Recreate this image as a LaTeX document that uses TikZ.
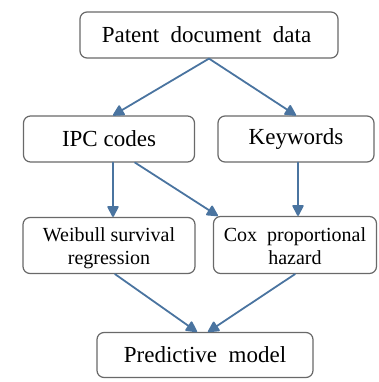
\documentclass[tikz,border=0pt]{standalone}
\usepackage{fontspec}
\setmainfont{Liberation Serif}
\usetikzlibrary{arrows.meta}
\definecolor{flow}{RGB}{74,116,160}
\definecolor{edge}{RGB}{105,105,105}
% lower the ink of a label without changing its reported size
\newcommand{\lowered}[1]{\raisebox{-3pt}[\height][\depth]{#1}}
\tikzset{
  box/.style={draw=edge, line width=1.2pt, rounded corners=7pt, fill=white,
              align=center, inner sep=0pt},
  flowarrow/.style={draw=flow, line width=1.8pt, line cap=round,
              -{Triangle[length=12pt,width=12pt,round]}}
}
\begin{document}
\begin{tikzpicture}[x=1pt,y=-1pt]
  \useasboundingbox (0,0) rectangle (379,382);
  % process steps
  \node[box, minimum width=258pt, minimum height=46pt, font=\fontsize{23}{24}\selectfont]
    (patent) at (209,35) {\hspace*{-5pt}Patent\ \ document\ \ data};
  \node[box, minimum width=171pt, minimum height=46pt, font=\fontsize{23}{24}\selectfont]
    (ipc) at (109,139) {IPC codes};
  \node[box, minimum width=156pt, minimum height=46pt, font=\fontsize{23}{24}\selectfont]
    (kw) at (296,139) {Keywords};
  \node[box, minimum width=172pt, minimum height=56pt, font=\fontsize{20}{23}\selectfont]
    (weib) at (109,245.5) {\lowered{\begin{tabular}{@{}c@{}}Weibull survival\\regression\end{tabular}}};
  \node[box, minimum width=163pt, minimum height=57pt, font=\fontsize{20}{23}\selectfont]
    (cox) at (295,245) {\lowered{\begin{tabular}{@{}c@{}}Cox\ \ proportional\\hazard\end{tabular}}};
  \node[box, minimum width=216pt, minimum height=45pt, font=\fontsize{23}{24}\selectfont]
    (pred) at (205,355) {Predictive\ \ model};
  % connectors
  \draw[flowarrow] (patent.south) -- ([xshift=4pt]ipc.north);
  \draw[flowarrow] (patent.south) -- (kw.north);
  \draw[flowarrow] ([xshift=4pt]ipc.south) -- ([xshift=4pt]weib.north);
  \draw[flowarrow] ([xshift=26pt]ipc.south) -- ([xshift=5pt]cox.north west);
  \draw[flowarrow] ([xshift=2pt]kw.south) -- ([xshift=3pt]cox.north);
  \draw[flowarrow] ([xshift=6pt]weib.south) -- ([xshift=-8pt]pred.north);
  \draw[flowarrow] ([xshift=0pt]cox.south) -- ([xshift=3pt]pred.north);
\end{tikzpicture}
\end{document}
